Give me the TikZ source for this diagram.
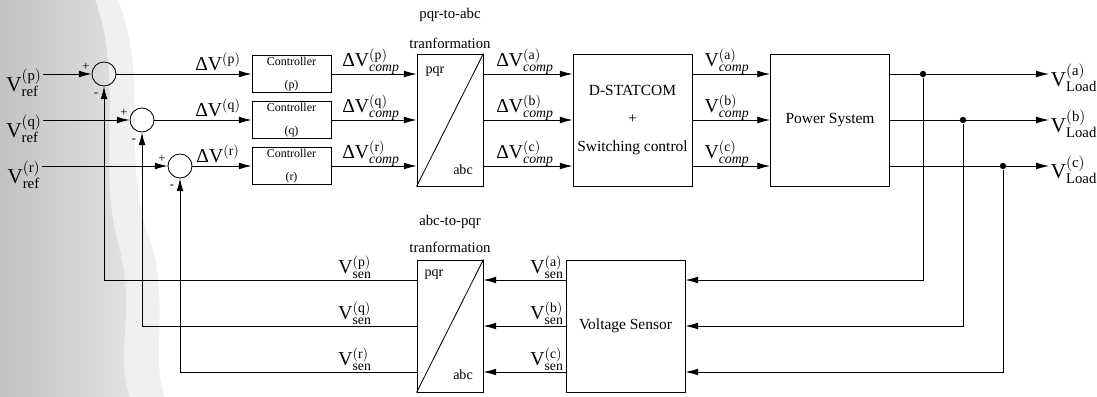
\documentclass[tikz,border=0pt]{standalone}
\usepackage{fontspec}
\setmainfont{Liberation Serif}
\usetikzlibrary{positioning,arrows.meta,calc}

\begin{document}
\begin{tikzpicture}[x=0.25mm, y=-0.25mm, line width=0.6pt,
  every node/.style={font=\fontsize{11}{13}\selectfont},
  blk/.style={draw, minimum width=29.75mm, minimum height=33mm, align=center, inner sep=0pt},
  ctrl/.style={draw, minimum width=19.75mm, minimum height=9.25mm, align=center, inner sep=0pt,
               font=\fontsize{8.5}{16}\selectfont},
  trf/.style={draw, minimum width=16.5mm, minimum height=33mm, inner sep=0pt},
  sumc/.style={draw, circle, minimum size=6mm, inner sep=0pt},
  sig/.style={font=\fontsize{14}{16}\selectfont, inner sep=1pt},
  big/.style={font=\fontsize{15}{17}\selectfont, inner sep=1pt},
  sgn/.style={font=\fontsize{9}{10}\selectfont, inner sep=0pt},
  title/.style={font=\fontsize{10.5}{12}\selectfont},
  port/.style={font=\fontsize{10}{12}\selectfont, inner sep=0pt},
  tap/.style={circle, fill, inner sep=0pt, minimum size=1.6mm},
  arr/.style={-{Latex[length=3.2mm,width=1.7mm]}}
]
  \useasboundingbox (0,0) rectangle (1097,397);

  % scanned shading on the left
  \fill[black!6] (0,0) -- (118,0) .. controls (150,80) and (120,160) .. (150,240)
        .. controls (170,300) and (150,360) .. (165,397) -- (0,397) -- cycle;
  \shade[left color=black!24, right color=black!11] (0,0) -- (95,0)
        .. controls (125,80) and (95,170) .. (120,250)
        .. controls (135,310) and (115,360) .. (130,397) -- (0,397) -- cycle;

  % summing junctions
  \node[sumc] (s1) at (104,74) {};
  \node[sumc] (s2) at (142,120) {};
  \node[sumc] (s3) at (180,166) {};
  \node[sgn] (s1p) at ($(s1)+(-18,-7)$) {+};
  \node[sgn] (s1m) at ($(s1)+(-8,21)$) {-};
  \node[sgn] (s2p) at ($(s2)+(-18,-7)$) {+};
  \node[sgn] (s2m) at ($(s2)+(-8,21)$) {-};
  \node[sgn] (s3p) at ($(s3)+(-18,-7)$) {+};
  \node[sgn] (s3m) at ($(s3)+(-8,21)$) {-};

  % references
  \node[big] (rp) at (24,83) {V$^{\mathrm{(p)}}_{\mathrm{ref}}$};
  \node[big] (rq) at (24,129) {V$^{\mathrm{(q)}}_{\mathrm{ref}}$};
  \node[big] (rr) at (24,175) {V$^{\mathrm{(r)}}_{\mathrm{ref}}$};

  % controllers
  \node[ctrl] (cp) at (291.5,74) {Controller\\(p)};
  \node[ctrl] (cq) at (291.5,120) {Controller\\(q)};
  \node[ctrl] (cr) at (291.5,166) {Controller\\(r)};
  \node[sig] (ep) at (218,62) {ΔV$^{\mathrm{(p)}}$};
  \node[sig] (eq) at (218,108) {ΔV$^{\mathrm{(q)}}$};
  \node[sig] (er) at (218,154) {ΔV$^{\mathrm{(r)}}$};

  % pqr-to-abc
  \node[trf] (tA) at (450,120) {};
  \node[title] (tAt) at (450,15) {pqr-to-abc};
  \node[title] (tAb) at (450,43) {tranformation};
  \node[port] (tApqr) at (435,72) {pqr};
  \node[port] (tAabc) at (463,170) {abc};
  \draw (tA.south west) -- (tA.north east);
  \node[sig] (dcp) at (371,62) {ΔV$^{\mathrm{(p)}}_{\mathit{comp}}$};
  \node[sig] (dcq) at (371,108) {ΔV$^{\mathrm{(q)}}_{\mathit{comp}}$};
  \node[sig] (dcr) at (371,154) {ΔV$^{\mathrm{(r)}}_{\mathit{comp}}$};
  \node[sig] (dca) at (525,62) {ΔV$^{\mathrm{(a)}}_{\mathit{comp}}$};
  \node[sig] (dcb) at (525,108) {ΔV$^{\mathrm{(b)}}_{\mathit{comp}}$};
  \node[sig] (dcc) at (525,154) {ΔV$^{\mathrm{(c)}}_{\mathit{comp}}$};

  % D-STATCOM and power system
  \node[blk, font=\fontsize{11}{20}\selectfont] (ds) at (632.5,120) {D-STATCOM\\+\\Switching control};
  \node[blk] (ps) at (830,120) {Power System};
  \node[sig] (vca) at (727,62) {V$^{\mathrm{(a)}}_{\mathit{comp}}$};
  \node[sig] (vcb) at (727,108) {V$^{\mathrm{(b)}}_{\mathit{comp}}$};
  \node[sig] (vcc) at (727,154) {V$^{\mathrm{(c)}}_{\mathit{comp}}$};

  % loads
  \node[tap] (ja) at (923,74) {};
  \node[tap] (jb) at (963,120) {};
  \node[tap] (jc) at (1003,166) {};
  \node[big, anchor=west] (la) at (1049,78) {V$^{\mathrm{(a)}}_{\mathrm{Load}}$};
  \node[big, anchor=west] (lb) at (1049,124) {V$^{\mathrm{(b)}}_{\mathrm{Load}}$};
  \node[big, anchor=west] (lc) at (1049,170) {V$^{\mathrm{(c)}}_{\mathrm{Load}}$};

  % sensing path
  \node[blk] (vs) at (625.5,326) {Voltage Sensor};
  \node[trf] (tB) at (450,326) {};
  \node[title] (tBt) at (450,222) {abc-to-pqr};
  \node[title] (tBb) at (450,247) {tranformation};
  \node[port] (tBpqr) at (434,275) {pqr};
  \node[port] (tBabc) at (463,375) {abc};
  \draw (tB.south west) -- (tB.north east);
  \node[sig] (sa) at (547,267) {V$^{\mathrm{(a)}}_{\mathrm{sen}}$};
  \node[sig] (sb) at (547,313) {V$^{\mathrm{(b)}}_{\mathrm{sen}}$};
  \node[sig] (sc) at (547,359) {V$^{\mathrm{(c)}}_{\mathrm{sen}}$};
  \node[sig] (sp) at (355,267) {V$^{\mathrm{(p)}}_{\mathrm{sen}}$};
  \node[sig] (sq) at (355,313) {V$^{\mathrm{(q)}}_{\mathrm{sen}}$};
  \node[sig] (sr) at (355,359) {V$^{\mathrm{(r)}}_{\mathrm{sen}}$};

  % forward path
  \draw[arr] (rp.east |- s1) -- (s1.west);
  \draw[arr] (rq.east |- s2) -- (s2.west);
  \draw[arr] (rr.east |- s3) -- (s3.west);
  \draw[arr] (s1.east) -- (cp.west);
  \draw[arr] (s2.east) -- (cq.west);
  \draw[arr] (s3.east) -- (cr.west);
  \draw[arr] (cp.east) -- (cp.east -| tA.west);
  \draw[arr] (cq.east) -- (cq.east -| tA.west);
  \draw[arr] (cr.east) -- (cr.east -| tA.west);
  \draw[arr] (tA.east |- cp) -- (ds.west |- cp);
  \draw[arr] (tA.east |- cq) -- (ds.west |- cq);
  \draw[arr] (tA.east |- cr) -- (ds.west |- cr);
  \draw[arr] (ds.east |- cp) -- (ps.west |- cp);
  \draw[arr] (ds.east |- cq) -- (ps.west |- cq);
  \draw[arr] (ds.east |- cr) -- (ps.west |- cr);
  \draw[arr] (ps.east |- ja) -- (la.west |- ja);
  \draw[arr] (ps.east |- jb) -- (lb.west |- jb);
  \draw[arr] (ps.east |- jc) -- (lc.west |- jc);

  % feedback path
  \draw[arr] (ja) |- ($(vs.east)+(0,-46)$);
  \draw[arr] (jb) |- (vs.east);
  \draw[arr] (jc) |- ($(vs.east)+(0,46)$);
  \draw[arr] ($(vs.west)+(0,-46)$) -- ($(tB.east)+(0,-46)$);
  \draw[arr] (vs.west) -- (tB.east);
  \draw[arr] ($(vs.west)+(0,46)$) -- ($(tB.east)+(0,46)$);
  \draw[arr] ($(tB.west)+(0,-46)$) -| (s1.south);
  \draw[arr] (tB.west) -| (s2.south);
  \draw[arr] ($(tB.west)+(0,46)$) -| (s3.south);
\end{tikzpicture}
\end{document}
